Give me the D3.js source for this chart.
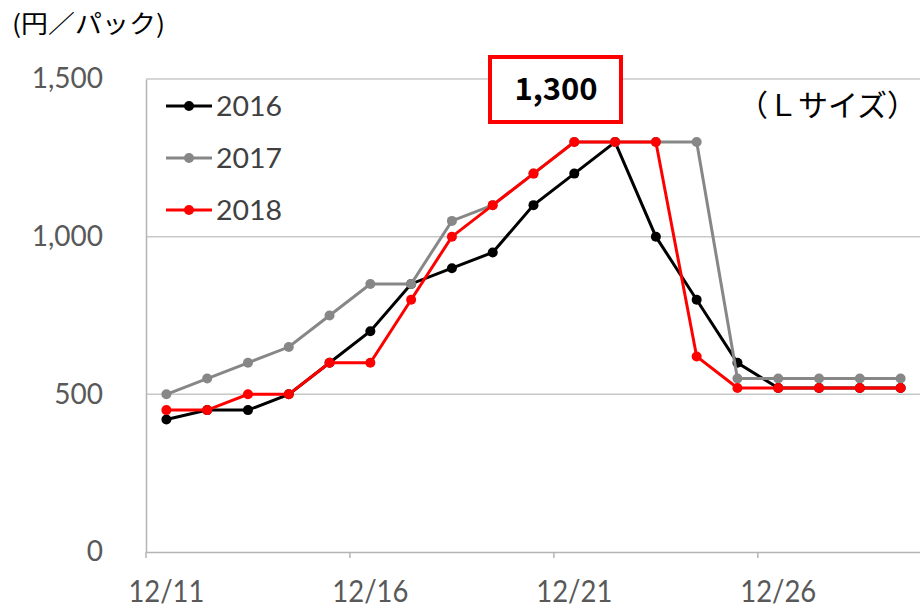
<!DOCTYPE html>
<html>
<head>
<meta charset="utf-8">
<script src="https://cdn.jsdelivr.net/npm/d3@7"></script>
<style>
  body { margin: 0; background: #fff; }
  svg { display: block; }
</style>
</head>
<body>
<div id="chart"></div>
<script>
var width = 920;
var height = 609;

// data
var days = ["12/11","12/12","12/13","12/14","12/15","12/16","12/17","12/18","12/19","12/20",
            "12/21","12/22","12/23","12/24","12/25","12/26","12/27","12/28","12/29"];
var tickDays = ["12/11","12/16","12/21","12/26"];
var yTicks = [0, 500, 1000, 1500];
var v2016 = [420, 450, 450, 500, 600, 700, 850, 900, 950, 1100, 1200, 1300, 1000, 800, 600, 520, 520, 520, 520];
var v2017 = [500, 550, 600, 650, 750, 850, 850, 1050, 1100, 1200, 1300, 1300, 1300, 1300, 550, 550, 550, 550, 550];
var v2018 = [450, 450, 500, 500, 600, 600, 800, 1000, 1100, 1200, 1300, 1300, 1300, 620, 520, 520, 520, 520, 520];
var seriesNames = ["2016", "2017", "2018"];
var seriesColors = ["#000000", "#878787", "#ff0000"];
var series = [v2016, v2017, v2018];

var font = "'Century Gothic', 'Lato', 'DejaVu Sans', sans-serif";
var jpFont = "'Noto Sans CJK JP', sans-serif";

var svg = d3.select("#chart")
  .append("svg")
  .attr("width", width)
  .attr("height", height);

// scales
var x = d3.scaleBand()
  .domain(days)
  .range([146, 921]);

var y = d3.scaleLinear()
  .domain([0, 1500])
  .range([552, 79]);

// grid lines
svg.append("g")
  .selectAll("line")
  .data(yTicks.filter(d => d > 0))
  .join("line")
    .attr("x1", 146)
    .attr("x2", 920)
    .attr("y1", d => y(d))
    .attr("y2", d => y(d))
    .attr("stroke", "#c8c8c8")
    .attr("stroke-width", 1.5);

// y axis
var yAxis = svg.append("g")
  .attr("transform", "translate(146,0)")
  .call(d3.axisLeft(y).tickValues(yTicks).tickSize(0).tickPadding(43).tickFormat(d3.format(",")));
yAxis.select(".domain").attr("stroke", "#b4b4b4").attr("stroke-width", 1.5);
yAxis.selectAll("text")
  .style("font-family", font)
  .style("font-size", "28px")
  .attr("fill", "#595959");

// x axis
var xAxis = svg.append("g")
  .attr("transform", "translate(0,552)")
  .call(d3.axisBottom(x).tickValues(tickDays).tickSize(0).tickPadding(29));
xAxis.select(".domain").attr("stroke", "#b4b4b4").attr("stroke-width", 1.5);
xAxis.selectAll("text")
  .style("font-family", font)
  .style("font-size", "30px")
  .attr("textLength", 76)
  .attr("lengthAdjust", "spacingAndGlyphs")
  .attr("fill", "#595959");
// tick marks at the left edge of every fifth category
xAxis.selectAll(".tickmark")
  .data(tickDays)
  .join("line")
    .attr("class", "tickmark")
    .attr("x1", d => x(d))
    .attr("x2", d => x(d))
    .attr("y1", 0)
    .attr("y2", 6)
    .attr("stroke", "#b4b4b4")
    .attr("stroke-width", 1.5);

// lines and markers
var line = d3.line()
  .x((d, i) => x(days[i]) + x.bandwidth() / 2)
  .y(d => y(d));

series.forEach(function(vals, k) {
  var g = svg.append("g");
  g.append("path")
    .datum(vals)
    .attr("d", line)
    .attr("fill", "none")
    .attr("stroke", seriesColors[k])
    .attr("stroke-width", 3);
  g.selectAll("circle")
    .data(vals)
    .join("circle")
      .attr("cx", (d, i) => x(days[i]) + x.bandwidth() / 2)
      .attr("cy", d => y(d))
      .attr("r", 5)
      .attr("fill", seriesColors[k]);
});

// legend
var legend = svg.append("g")
  .selectAll("g")
  .data(seriesNames)
  .join("g")
    .attr("transform", (d, i) => "translate(166," + (106 + i * 52) + ")");
legend.append("line")
  .attr("x1", 0).attr("x2", 46)
  .attr("stroke", (d, i) => seriesColors[i])
  .attr("stroke-width", 3);
legend.append("circle")
  .attr("cx", 23).attr("r", 5)
  .attr("fill", (d, i) => seriesColors[i]);
legend.append("text")
  .attr("x", 50)
  .attr("y", 10)
  .text(d => d)
  .style("font-family", font)
  .style("font-size", "27px")
  .attr("textLength", 66)
  .attr("lengthAdjust", "spacingAndGlyphs")
  .attr("fill", "#404040");

// unit label
svg.append("text")
  .attr("x", 12)
  .attr("y", 33)
  .text("(円／パック)")
  .style("font-family", jpFont)
  .style("font-size", "25px")
  .attr("textLength", 153)
  .attr("lengthAdjust", "spacingAndGlyphs")
  .attr("fill", "#000");

// highlighted peak value
svg.append("rect")
  .attr("x", 490)
  .attr("y", 57)
  .attr("width", 131)
  .attr("height", 65)
  .attr("fill", "#fff")
  .attr("stroke", "#ff0000")
  .attr("stroke-width", 4);
svg.append("text")
  .attr("x", 556)
  .attr("y", 100)
  .attr("text-anchor", "middle")
  .text("1,300")
  .style("font-family", jpFont)
  .style("font-weight", "bold")
  .style("font-size", "31px")
  .attr("fill", "#000");

// size label
svg.append("text")
  .attr("x", 738)
  .attr("y", 116)
  .text("（Ｌサイズ）")
  .style("font-family", jpFont)
  .style("font-size", "30px")
  .attr("fill", "#000");
</script>
</body>
</html>
